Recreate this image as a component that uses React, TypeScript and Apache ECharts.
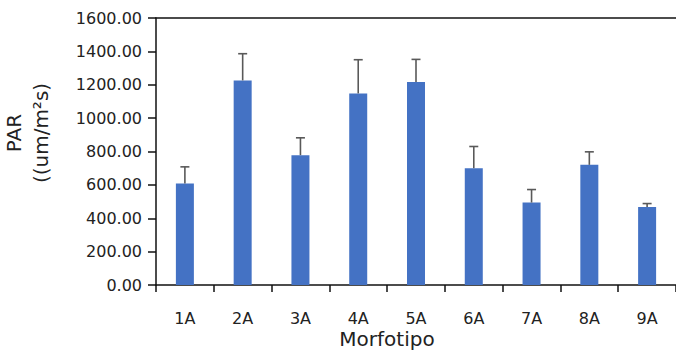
import React, { useEffect, useRef } from "react";
import * as echarts from "echarts";

const categories = ["1A", "2A", "3A", "4A", "5A", "6A", "7A", "8A", "9A"];
const parValues = [608, 1226, 778, 1148, 1216, 700, 494, 720, 468];
const parErrors = [100, 160, 104, 202, 136, 130, 78, 78, 20];
const yTicks = { min: 0, max: 1600, interval: 200 };

const FONT = "DejaVu Sans";

export default function App() {
  const ref = useRef<HTMLDivElement>(null);
  useEffect(() => {
    if (!ref.current) return;
    const chart = echarts.init(ref.current, null, { renderer: "svg" });
    const errData = categories.map((c, i) => [i, parValues[i], parErrors[i]]);
    chart.setOption({
      animation: false,
      grid: { left: 156, top: 18, bottom: 66, right: -7, containLabel: false },
      xAxis: [
        {
          type: "category",
          data: categories,
          axisLine: { lineStyle: { color: "#111", width: 1.5 } },
          axisTick: { show: true, length: 7, alignWithLabel: false, lineStyle: { color: "#111", width: 1.5 } },
          axisLabel: { color: "#222", fontFamily: FONT, fontSize: 16, margin: 25 },
          splitLine: { show: false },
        },
        {
          type: "category",
          data: categories,
          position: "top",
          axisLine: { lineStyle: { color: "#111", width: 1.5 } },
          axisTick: { show: false },
          axisLabel: { show: false },
        },
      ],
      yAxis: {
        type: "value",
        min: yTicks.min,
        max: yTicks.max,
        interval: yTicks.interval,
        axisLine: { show: true, lineStyle: { color: "#111", width: 1.5 } },
        axisTick: { show: true, length: 8, lineStyle: { color: "#111", width: 1.5 } },
        splitLine: { show: false },
        axisLabel: {
          color: "#222",
          fontFamily: FONT,
          fontSize: 16,
          margin: 14,
          formatter: (v: number) => v.toFixed(2),
        },
      },
      series: [
        {
          type: "bar",
          data: parValues,
          barWidth: 18,
          itemStyle: { color: "#4472C4" },
        },
        {
          type: "custom",
          data: errData,
          z: 3,
          renderItem: (params: any, api: any) => {
            const i = api.value(0);
            const v = api.value(1);
            const e = api.value(2);
            const base = api.coord([i, v]);
            const top = api.coord([i, v + e]);
            const half = 4.5;
            const style = { stroke: "#595959", lineWidth: 1.6 };
            return {
              type: "group",
              children: [
                { type: "line", shape: { x1: base[0], y1: base[1], x2: top[0], y2: top[1] }, style },
                { type: "line", shape: { x1: top[0] - half, y1: top[1], x2: top[0] + half, y2: top[1] }, style },
              ],
            };
          },
        },
      ],
      graphic: [
        {
          type: "text",
          x: 27,
          y: 133,
          rotation: Math.PI / 2,
          style: {
            text: "PAR\n((um/m²s)",
            fontFamily: FONT,
            fontSize: 20,
            lineHeight: 27,
            fill: "#222",
            align: "center",
            verticalAlign: "middle",
          },
        },
        {
          type: "text",
          x: 387,
          y: 329,
          style: {
            text: "Morfotipo",
            fontFamily: FONT,
            fontSize: 20,
            fill: "#222",
            align: "center",
            verticalAlign: "top",
          },
        },
      ],
    });
    return () => chart.dispose();
  }, []);
  return (
    <div
      ref={ref}
      style={{ position: "fixed", left: 0, top: 0, width: 676, height: 351, background: "#fff" }}
    />
  );
}
